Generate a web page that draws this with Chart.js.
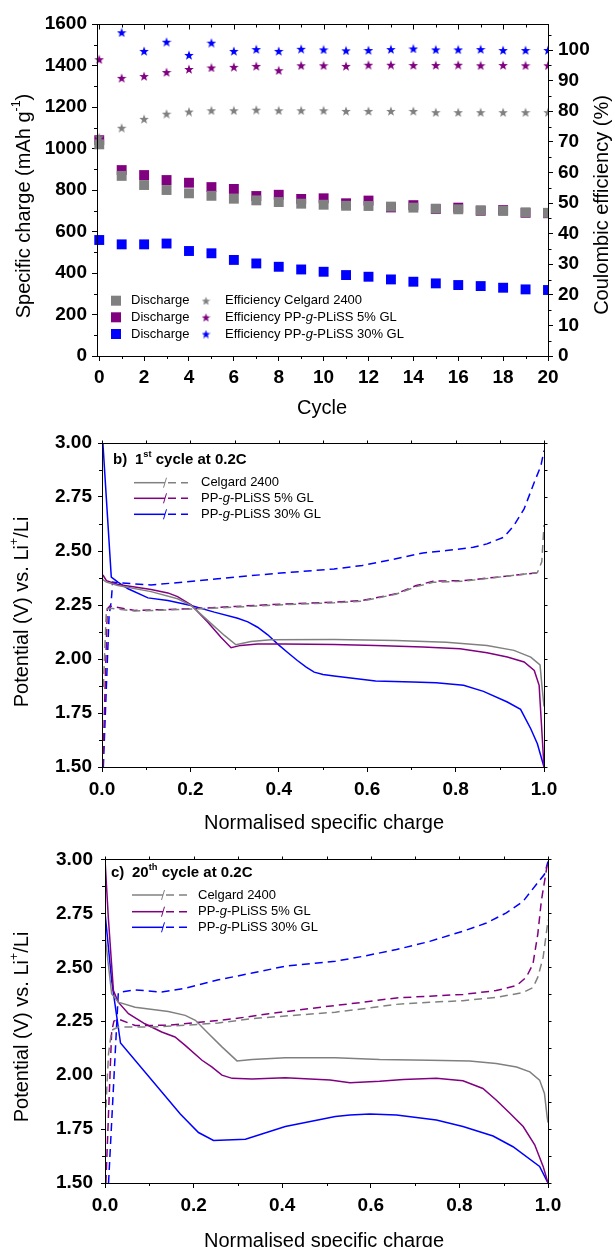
<!DOCTYPE html>
<html>
<head>
<meta charset="utf-8">
<script src="https://cdn.jsdelivr.net/npm/chart.js@4.4.1/dist/chart.umd.min.js"></script>
<style>
  html, body { margin: 0; padding: 0; background: #fff; }
  #wrap { position: relative; width: 615px; height: 1247px; overflow: hidden; }
  canvas { position: absolute; left: 0; }
</style>
</head>
<body>
<div id="wrap">
  <canvas id="cycA" width="615" height="420" style="top:0px"></canvas>
  <canvas id="profB" width="615" height="420" style="top:420px"></canvas>
  <canvas id="profC" width="615" height="407" style="top:840px"></canvas>
</div>
<script>
// ---- panel a: cycling ----
const cycles = [0, 1, 2, 3, 4, 5, 6, 7, 8, 9, 10, 11, 12, 13, 14, 15, 16, 17, 18, 19, 20];
const dischargeCelgard = [1020, 868, 824, 800, 784, 772, 758, 750, 742, 734, 729, 724, 723, 720, 715, 710, 707, 702, 699, 692, 690];
const dischargePP5 = [1040, 896, 872, 848, 835, 814, 805, 771, 777, 757, 760, 736, 749, 716, 727, 708, 715, 700, 703, 690, 688];
const dischargePP30 = [559, 538, 538, 542, 506, 495, 463, 446, 430, 417, 406, 390, 382, 369, 358, 350, 342, 337, 329, 321, 318];
const effCelgard = [71.5, 74.6, 77.5, 79.2, 79.9, 80.3, 80.3, 80.5, 80.3, 80.3, 80.3, 80.1, 80.1, 80.1, 80.1, 79.7, 79.7, 79.7, 79.7, 79.7, 79.7];
const effPP5 = [97, 90.9, 91.5, 92.8, 93.8, 94.3, 94.5, 94.8, 93.4, 95, 95, 94.8, 95.2, 95.2, 95.1, 95.1, 95.2, 95, 95.1, 95, 95];
const effPP30 = [null, 105.8, 99.7, 102.7, 98.4, 102.4, 99.7, 100.3, 99.7, 100.4, 100.2, 99.9, 100, 100.3, 100.5, 100.2, 100.2, 100.3, 100, 100, 100];

// ---- panel b: 1st cycle, [normalised charge, potential] ----
const bCelgardDis = [[0, 2.37], [0.01, 2.356], [0.036, 2.34], [0.111, 2.312], [0.171, 2.279], [0.2015, 2.248], [0.239, 2.179], [0.277, 2.109], [0.303, 2.066], [0.337, 2.081], [0.382, 2.089], [0.525, 2.09], [0.665, 2.086], [0.779, 2.078], [0.871, 2.063], [0.932, 2.04], [0.97, 2.009], [0.991, 1.973], [0.996, 1.862], [1.0, 1.78]];
const bPP5Dis = [[0.002, 2.389], [0.01, 2.363], [0.036, 2.345], [0.074, 2.333], [0.111, 2.322], [0.149, 2.306], [0.171, 2.289], [0.2015, 2.251], [0.239, 2.171], [0.269, 2.101], [0.292, 2.052], [0.314, 2.063], [0.352, 2.069], [0.412, 2.069], [0.525, 2.067], [0.619, 2.063], [0.726, 2.055], [0.81, 2.047], [0.871, 2.029], [0.917, 2.009], [0.955, 1.986], [0.978, 1.947], [0.989, 1.878], [1.0, 1.5]];
const bPP30Dis = [[0.002, 3.0], [0.021, 2.379], [0.036, 2.356], [0.059, 2.325], [0.104, 2.283], [0.149, 2.271], [0.2015, 2.248], [0.254, 2.217], [0.307, 2.189], [0.33, 2.172], [0.352, 2.147], [0.375, 2.112], [0.397, 2.07], [0.42, 2.03], [0.442, 1.993], [0.462, 1.962], [0.48, 1.939], [0.5, 1.928], [0.525, 1.921], [0.619, 1.898], [0.703, 1.893], [0.756, 1.89], [0.818, 1.878], [0.863, 1.85], [0.917, 1.801], [0.947, 1.767], [0.97, 1.677], [0.985, 1.608], [1.0, 1.5]];
const bCelgardCha = [[0.003, 1.87], [0.01, 2.23], [0.02, 2.235], [0.074, 2.222], [0.149, 2.227], [0.224, 2.233], [0.299, 2.24], [0.374, 2.248], [0.525, 2.26], [0.589, 2.268], [0.665, 2.3], [0.711, 2.335], [0.749, 2.355], [0.818, 2.36], [0.894, 2.378], [0.985, 2.4], [0.995, 2.45], [1.0, 2.62]];
const bPP5Cha = [[0.002, 1.5], [0.012, 2.232], [0.018, 2.245], [0.074, 2.225], [0.149, 2.229], [0.224, 2.235], [0.299, 2.243], [0.374, 2.251], [0.525, 2.263], [0.589, 2.271], [0.665, 2.302], [0.711, 2.34], [0.749, 2.36], [0.818, 2.363], [0.894, 2.379], [0.99, 2.4]];
const bPP30Cha = [[0.003, 1.5], [0.016, 2.2], [0.021, 2.27], [0.024, 2.356], [0.036, 2.353], [0.111, 2.343], [0.186, 2.356], [0.262, 2.371], [0.337, 2.386], [0.412, 2.399], [0.525, 2.417], [0.589, 2.433], [0.665, 2.464], [0.726, 2.491], [0.779, 2.502], [0.84, 2.517], [0.871, 2.533], [0.909, 2.564], [0.932, 2.618], [0.955, 2.695], [0.978, 2.818], [0.993, 2.895], [1.0, 2.965]];

// ---- panel c: 20th cycle ----
const cCelgardDis = [[0, 2.65], [0.015, 2.377], [0.03, 2.338], [0.068, 2.315], [0.143, 2.295], [0.181, 2.277], [0.204, 2.254], [0.234, 2.192], [0.264, 2.131], [0.298, 2.066], [0.332, 2.072], [0.407, 2.08], [0.52, 2.08], [0.62, 2.072], [0.733, 2.069], [0.823, 2.065], [0.883, 2.054], [0.929, 2.038], [0.959, 2.015], [0.981, 1.977], [0.992, 1.915], [0.998, 1.808], [1.0, 1.78]];
const cPP5Dis = [[0, 3.0], [0.0075, 2.73], [0.019, 2.392], [0.03, 2.338], [0.053, 2.285], [0.09, 2.238], [0.128, 2.2], [0.158, 2.177], [0.181, 2.138], [0.219, 2.069], [0.241, 2.038], [0.264, 2.0], [0.287, 1.985], [0.332, 1.982], [0.407, 1.988], [0.508, 1.977], [0.553, 1.965], [0.62, 1.972], [0.673, 1.98], [0.748, 1.986], [0.808, 1.974], [0.853, 1.938], [0.883, 1.885], [0.914, 1.823], [0.944, 1.762], [0.97, 1.677], [0.989, 1.577], [1.0, 1.5]];
const cPP30Dis = [[0, 2.754], [0.015, 2.438], [0.035, 2.149], [0.17, 1.82], [0.211, 1.734], [0.245, 1.697], [0.317, 1.703], [0.407, 1.762], [0.52, 1.808], [0.553, 1.815], [0.598, 1.82], [0.658, 1.815], [0.748, 1.792], [0.808, 1.762], [0.876, 1.718], [0.921, 1.668], [0.981, 1.577], [1.0, 1.5]];
const cCelgardCha = [[0.002, 1.85], [0.008, 2.1], [0.015, 2.208], [0.03, 2.223], [0.106, 2.223], [0.181, 2.231], [0.256, 2.242], [0.332, 2.262], [0.52, 2.292], [0.583, 2.308], [0.658, 2.328], [0.733, 2.338], [0.808, 2.345], [0.883, 2.36], [0.944, 2.383], [0.966, 2.406], [0.977, 2.454], [0.989, 2.546], [0.998, 2.685], [1.0, 2.72]];
const cPP5Cha = [[0.002, 1.5], [0.015, 2.2], [0.02, 2.25], [0.03, 2.26], [0.068, 2.23], [0.143, 2.231], [0.219, 2.246], [0.294, 2.262], [0.37, 2.285], [0.52, 2.323], [0.583, 2.338], [0.658, 2.358], [0.733, 2.366], [0.808, 2.374], [0.883, 2.392], [0.929, 2.415], [0.951, 2.454], [0.966, 2.515], [0.977, 2.654], [0.985, 2.808], [0.996, 2.946], [1.0, 3.0]];
const cPP30Cha = [[0.008, 1.5], [0.03, 2.38], [0.034, 2.385], [0.068, 2.395], [0.128, 2.385], [0.181, 2.403], [0.256, 2.442], [0.332, 2.473], [0.407, 2.505], [0.52, 2.528], [0.583, 2.551], [0.658, 2.582], [0.733, 2.62], [0.808, 2.667], [0.861, 2.705], [0.906, 2.752], [0.944, 2.806], [0.974, 2.885], [0.992, 2.931], [1.0, 2.99]];

const GRAY = "#808080";
const PURPLE = "#800080";
const BLUE = "#0000ff";
const FONT = '"Liberation Sans", Arial, Helvetica, sans-serif';
const TICK_FONT = { family: FONT, size: 19, weight: "bold" };

Chart.defaults.font.family = FONT;
Chart.defaults.color = "#000";

// filled 5-point star used as point style
function starImage(color, size) {
  const c = document.createElement("canvas");
  c.width = size;
  c.height = size;
  const g = c.getContext("2d");
  const r = size / 2;
  g.beginPath();
  for (let i = 0; i < 10; i++) {
    const a = -Math.PI / 2 + (i * Math.PI) / 5;
    const rr = i % 2 ? r * 0.42 : r;
    g.lineTo(r + rr * Math.cos(a), r + rr * Math.sin(a) + size * 0.06);
  }
  g.closePath();
  g.fillStyle = color;
  g.fill();
  return c;
}

// text with italic / superscript pieces; x = left, y = middle
function richText(ctx, parts, x, y, size, weight, draw = true) {
  let cx = x;
  for (const [text, kind] of parts) {
    const sup = kind === "sup";
    const s = sup ? size * 0.62 : size;
    ctx.font = `${kind === "i" ? "italic " : ""}${weight || "normal"} ${s}px ${FONT}`;
    if (draw) ctx.fillText(text, cx, sup ? y - size * 0.36 : y);
    cx += ctx.measureText(text).width;
  }
  return cx - x;
}

function axisTitle(ctx, parts, cx, cy, size, rotate) {
  ctx.save();
  ctx.translate(cx, cy);
  if (rotate) ctx.rotate(-Math.PI / 2);
  ctx.textAlign = "left";
  ctx.textBaseline = "middle";
  ctx.fillStyle = "#000";
  const w = richText(ctx, parts, 0, 0, size, "normal", false);
  richText(ctx, parts, -w / 2, 0, size, "normal");
  ctx.restore();
}

// box around the plot plus minor / mirror ticks
const framePlugin = {
  id: "frame",
  afterDraw(chart, args, opts) {
    const { ctx, chartArea: a, scales } = chart;
    const L = Math.round(a.left), R = Math.round(a.right);
    const T = Math.round(a.top), B = Math.round(a.bottom);
    ctx.save();
    ctx.strokeStyle = "#000";
    ctx.lineWidth = 1;
    ctx.strokeRect(L + 0.5, T + 0.5, R - L, B - T);
    ctx.beginPath();
    (opts.marks || []).forEach((m) => {
      const sc = scales[m.axis];
      for (let v = m.from; v <= m.to + 1e-9; v += m.step) {
        const p = Math.round(sc.getPixelForValue(v)) + 0.5;
        if (m.side === "bottom") { ctx.moveTo(p, B); ctx.lineTo(p, B + m.len); }
        if (m.side === "top") { ctx.moveTo(p, T + 0.5); ctx.lineTo(p, T + 0.5 - m.len); }
        if (m.side === "left") { ctx.moveTo(L, p); ctx.lineTo(L - m.len, p); }
        if (m.side === "right") { ctx.moveTo(R + 0.5, p); ctx.lineTo(R + 0.5 + m.len, p); }
      }
    });
    ctx.stroke();
    ctx.restore();
  },
};

function axisOpts(extra) {
  return Object.assign(
    {
      type: "linear",
      grid: { drawOnChartArea: false, drawTicks: true, tickLength: 5, color: "#000" },
      border: { display: false },
      title: { display: false },
    },
    extra
  );
}

// ---------- chart a ----------
const starGray = starImage(GRAY, 10);
const starPurple = starImage(PURPLE, 10);
const starBlue = starImage(BLUE, 10);

function pts(ys) {
  return cycles.map((c, i) => ({ x: c, y: ys[i] }));
}
function squares(label, ys, color) {
  return { label, data: pts(ys), yAxisID: "y", pointStyle: "rect", pointRadius: 7, pointBorderWidth: 0, backgroundColor: color, borderColor: color, clip: { left: 8, right: 0, top: 8, bottom: 8 } };
}
function stars(label, ys, img) {
  return { label, data: pts(ys), yAxisID: "y1", pointStyle: img, pointRadius: 5, clip: { left: 8, right: 0, top: 8, bottom: 8 } };
}

new Chart(document.getElementById("cycA"), {
  type: "scatter",
  data: {
    datasets: [
      stars("Efficiency Celgard 2400", effCelgard, starGray),
      stars("Efficiency PP-g-PLiSS 5% GL", effPP5, starPurple),
      stars("Efficiency PP-g-PLiSS 30% GL", effPP30, starBlue),
      squares("Discharge", dischargeCelgard, GRAY),
      squares("Discharge", dischargePP5, PURPLE),
      squares("Discharge", dischargePP30, BLUE),
    ],
  },
  options: {
    responsive: false,
    animation: false,
    layout: { padding: { top: 24, left: 0, right: 0, bottom: 0 } },
    scales: {
      x: axisOpts({
        min: -0.1, max: 20,
        afterFit: (s) => { s.height = 64; },
        ticks: { stepSize: 2, includeBounds: false, autoSkip: false, maxRotation: 0, padding: 5, font: TICK_FONT, color: "#000", callback: (v) => String(v) },
      }),
      y: axisOpts({
        position: "left", min: 0, max: 1600,
        afterFit: (s) => { s.width = 97; },
        ticks: { stepSize: 200, padding: 5, font: TICK_FONT, color: "#000", callback: (v) => String(v) },
      }),
      y1: axisOpts({
        position: "right", min: 0, max: 108.5,
        afterFit: (s) => { s.width = 67; },
        ticks: { stepSize: 10, includeBounds: false, padding: 5, font: TICK_FONT, color: "#000", callback: (v) => String(v) },
      }),
    },
    plugins: {
      legend: { display: false },
      tooltip: { enabled: false },
      frame: {
        marks: [
          { axis: "x", side: "bottom", from: 1, to: 19, step: 2, len: 3 },
          { axis: "x", side: "top", from: 0, to: 20, step: 2, len: -5 },
          { axis: "x", side: "top", from: 1, to: 19, step: 2, len: -3 },
          { axis: "y", side: "left", from: 100, to: 1500, step: 200, len: 3 },
          { axis: "y1", side: "right", from: 5, to: 105, step: 10, len: 3 },
        ],
      },
    },
  },
  plugins: [
    framePlugin,
    {
      id: "textA",
      afterDraw(chart) {
        const { ctx } = chart;
        axisTitle(ctx, [["Specific charge (mAh g", ""], ["-1", "sup"], [")", ""]], 24, 206, 20, true);
        axisTitle(ctx, [["Coulombic efficiency (%)", ""]], 602, 205, 20, true);
        axisTitle(ctx, [["Cycle", ""]], 322, 408, 20, false);

        const rows = [
          { y: 300.7, color: GRAY, star: starImage(GRAY, 9), text: [["Efficiency Celgard 2400", ""]] },
          { y: 317.3, color: PURPLE, star: starImage(PURPLE, 9), text: [["Efficiency PP-", ""], ["g", "i"], ["-PLiSS 5% GL", ""]] },
          { y: 334, color: BLUE, star: starImage(BLUE, 9), text: [["Efficiency PP-", ""], ["g", "i"], ["-PLiSS 30% GL", ""]] },
        ];
        ctx.save();
        ctx.textAlign = "left";
        ctx.textBaseline = "middle";
        rows.forEach((r) => {
          ctx.fillStyle = r.color;
          ctx.fillRect(111, r.y - 5, 10, 10);
          ctx.drawImage(r.star, 206 - 4.5, r.y - 4.5);
          ctx.fillStyle = "#000";
          richText(ctx, [["Discharge", ""]], 131, r.y, 13);
          richText(ctx, r.text, 225, r.y, 13);
        });
        ctx.restore();
      },
    },
  ],
});

// ---------- charts b and c ----------
function curve(label, data, color, dashed) {
  return {
    label,
    data: data.map(([x, y]) => ({ x, y })),
    borderColor: color,
    backgroundColor: color,
    borderWidth: 1.5,
    borderDash: dashed ? [8, 5] : [],
    pointRadius: 0,
    tension: 0,
    fill: false,
  };
}

function profileChart(id, box, datasets, deco) {
  new Chart(document.getElementById(id), {
    type: "line",
    data: { datasets },
    options: {
      responsive: false,
      animation: false,
      layout: { padding: { top: box.top, left: 0, right: box.right, bottom: 0 } },
      scales: {
        x: axisOpts({
          min: 0, max: 1,
          afterFit: (s) => { s.height = box.xh; },
          ticks: { stepSize: 0.2, autoSkip: false, maxRotation: 0, padding: 6, font: TICK_FONT, color: "#000", callback: (v) => v.toFixed(1) },
        }),
        y: axisOpts({
          position: "left", min: 1.5, max: 3.0,
          afterFit: (s) => { s.width = box.left; },
          grid: { drawOnChartArea: false, drawTicks: true, tickLength: 4, color: "#000" },
          ticks: { stepSize: 0.25, padding: box.ypad, font: TICK_FONT, color: "#000", callback: (v) => v.toFixed(2) },
        }),
      },
      plugins: {
        legend: { display: false },
        tooltip: { enabled: false },
        frame: {
          marks: [
            { axis: "x", side: "bottom", from: 0.1, to: 0.9, step: 0.2, len: 3 },
            { axis: "x", side: "top", from: 0, to: 1, step: 0.1, len: 3 },
            { axis: "y", side: "left", from: 1.625, to: 2.875, step: 0.25, len: 3 },
            { axis: "y", side: "right", from: 1.5, to: 3.0, step: 0.125, len: 3 },
          ],
        },
      },
    },
    plugins: [
      framePlugin,
      {
        id: "text" + id,
        afterDraw(chart) {
          const { ctx } = chart;
          axisTitle(ctx, [["Potential (V) vs. Li", ""], ["+", "sup"], ["/Li", ""]], 22, deco.ytitle, 20, true);
          axisTitle(ctx, [["Normalised specific charge", ""]], 324, deco.xtitle, 20, false);
          ctx.save();
          ctx.textAlign = "left";
          ctx.textBaseline = "middle";
          ctx.fillStyle = "#000";
          richText(ctx, [[deco.tag, ""]], deco.tagX, deco.labelY, 15, "bold");
          richText(ctx, deco.label, deco.labelX, deco.labelY, 15, "bold");
          const L = deco.legend;
          L.rows.forEach((r) => {
            ctx.strokeStyle = r.color;
            ctx.lineWidth = 1.5;
            ctx.setLineDash([]);
            ctx.beginPath();
            ctx.moveTo(L.x0, r.y);
            ctx.lineTo(L.x1, r.y);
            ctx.stroke();
            ctx.lineWidth = 1;
            ctx.beginPath();
            ctx.moveTo(L.x1 - 1.5, r.y + 5);
            ctx.lineTo(L.x1 + 1.5, r.y - 5);
            ctx.stroke();
            ctx.lineWidth = 1.5;
            ctx.setLineDash([8, 5]);
            ctx.beginPath();
            ctx.moveTo(L.x1 + 3, r.y);
            ctx.lineTo(L.x2, r.y);
            ctx.stroke();
            ctx.setLineDash([]);
            ctx.fillStyle = "#000";
            richText(ctx, r.text, L.tx, r.y, 13);
          });
          ctx.restore();
        },
      },
    ],
  });
}

const legendText = [
  [["Celgard 2400", ""]],
  [["PP-", ""], ["g", "i"], ["-PLiSS 5% GL", ""]],
  [["PP-", ""], ["g", "i"], ["-PLiSS 30% GL", ""]],
];

profileChart(
  "profB",
  { top: 23, left: 102, right: 71, xh: 73, ypad: 6 },
  [
    curve("Celgard 2400 discharge", bCelgardDis, GRAY, false),
    curve("Celgard 2400 charge", bCelgardCha, GRAY, true),
    curve("PP-g-PLiSS 5% GL discharge", bPP5Dis, PURPLE, false),
    curve("PP-g-PLiSS 5% GL charge", bPP5Cha, PURPLE, true),
    curve("PP-g-PLiSS 30% GL discharge", bPP30Dis, BLUE, false),
    curve("PP-g-PLiSS 30% GL charge", bPP30Cha, BLUE, true),
  ],
  {
    ytitle: 192, xtitle: 403,
    tag: "b)", tagX: 113, labelX: 135, labelY: 40,
    label: [["1", ""], ["st", "sup"], [" cycle at 0.2C", ""]],
    legend: {
      x0: 134, x1: 165, x2: 188, tx: 201,
      rows: [
        { y: 62.7, color: GRAY, text: legendText[0] },
        { y: 78.3, color: PURPLE, text: legendText[1] },
        { y: 94.3, color: BLUE, text: legendText[2] },
      ],
    },
  }
);

profileChart(
  "profC",
  { top: 18, left: 105, right: 67, xh: 64, ypad: 8 },
  [
    curve("Celgard 2400 discharge", cCelgardDis, GRAY, false),
    curve("Celgard 2400 charge", cCelgardCha, GRAY, true),
    curve("PP-g-PLiSS 5% GL discharge", cPP5Dis, PURPLE, false),
    curve("PP-g-PLiSS 5% GL charge", cPP5Cha, PURPLE, true),
    curve("PP-g-PLiSS 30% GL discharge", cPP30Dis, BLUE, false),
    curve("PP-g-PLiSS 30% GL charge", cPP30Cha, BLUE, true),
  ],
  {
    ytitle: 187, xtitle: 401,
    tag: "c)", tagX: 111, labelX: 132, labelY: 33,
    label: [["20", ""], ["th", "sup"], [" cycle at 0.2C", ""]],
    legend: {
      x0: 132, x1: 163, x2: 192, tx: 198,
      rows: [
        { y: 55, color: GRAY, text: legendText[0] },
        { y: 71.7, color: PURPLE, text: legendText[1] },
        { y: 87.3, color: BLUE, text: legendText[2] },
      ],
    },
  }
);
</script>
</body>
</html>
